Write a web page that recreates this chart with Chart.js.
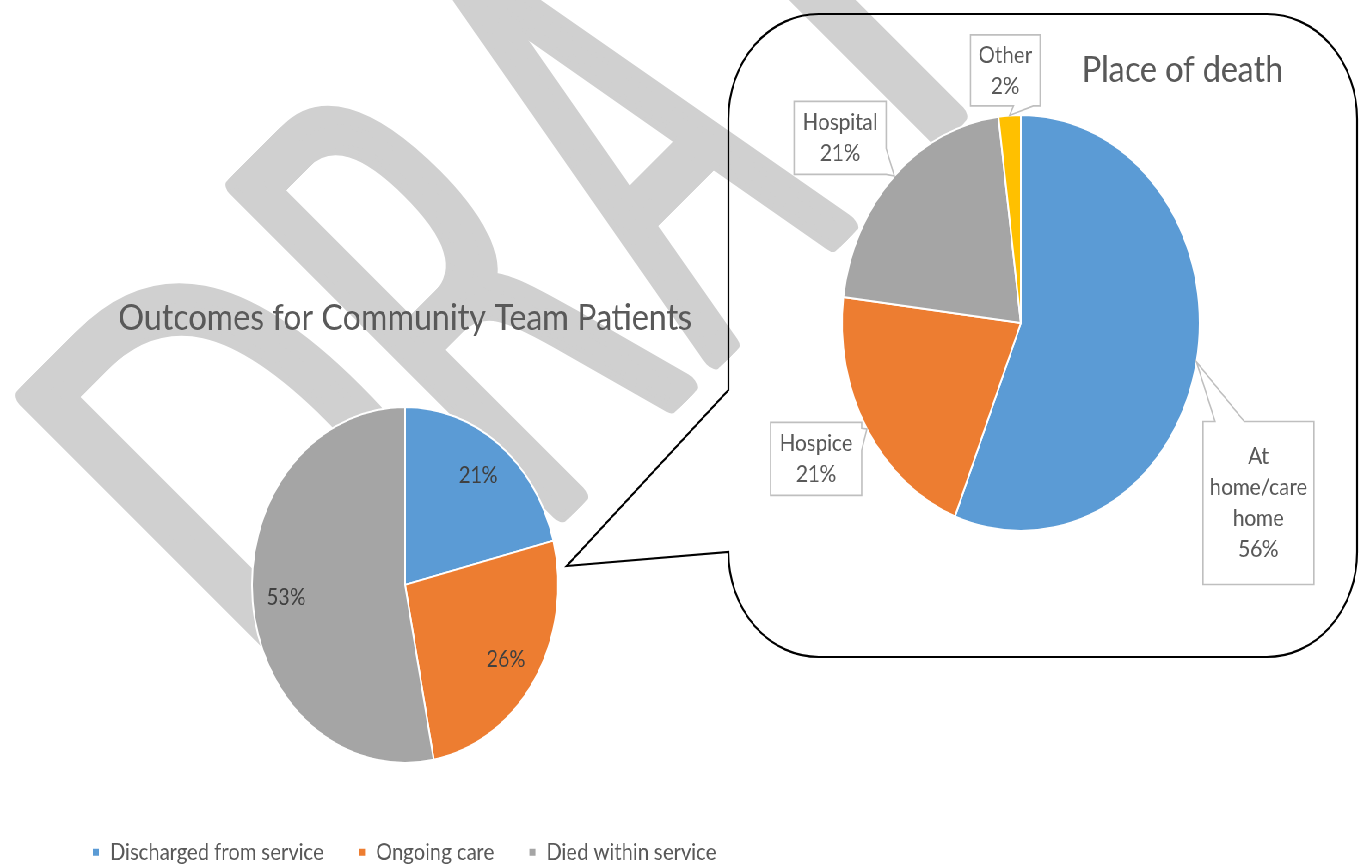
<!DOCTYPE html>
<html>
<head>
<meta charset="utf-8">
<title>Outcomes for Community Team Patients</title>
<script src="https://cdn.jsdelivr.net/npm/chart.js@4.4.1/dist/chart.umd.min.js"></script>
<style>
  html, body { margin: 0; padding: 0; background: #fff; overflow: hidden; }
  #watermark { position: absolute; left: 0; top: 0; }
  /* the sheet is laid out wide and then narrowed, so the pies come out oval */
  #page { position: absolute; left: 0; top: 0; width: 1587px; height: 864px; overflow: hidden;
          transform: scaleX(0.86); transform-origin: 0 0; }
  #page canvas { position: absolute; }
</style>
</head>
<body>
<canvas id="watermark" width="1365" height="864"></canvas>
<div id="page">
  <canvas id="backdrop" width="1587" height="864" style="left:0;top:0"></canvas>
  <canvas id="outcomes" width="942" height="580" style="left:0;top:294px"></canvas>
  <canvas id="death" width="731" height="643" style="left:847px;top:14px"></canvas>
</div>
<script>
const FONT = 'Lato, "Open Sans", sans-serif';

const outcomeLabels = ['Discharged from service', 'Ongoing care', 'Died within service'];
const outcomeValues = [21, 26, 53];
const outcomeColors = ['#5B9BD5', '#ED7D31', '#A5A5A5'];

const deathLabels = ['At home/care home', 'Hospice', 'Hospital', 'Other'];
const deathValues = [56, 21, 21, 2];
const deathColors = ['#5B9BD5', '#ED7D31', '#A5A5A5', '#FFC000'];

// callout boxes: centre offset from the slice edge, size, and where the pointer leaves the box
const calloutStyle = [
  { dx: 72,  dy: 141, w: 129, h: 163, side: 'top',    from: 14, to: 48, wrap: 112 },
  { dx: -59, dy: 30,  w: 106, h: 73,  side: 'right',  from: 6,  to: 28, wrap: 100 },
  { dx: -63, dy: -38, w: 107, h: 73,  side: 'right',  from: 47, to: 73, wrap: 100 },
  { dx: -5,  dy: -45, w: 81,  h: 71,  side: 'bottom', from: 50, to: 73, wrap: 80 }
];

// watermark letters: span of each letter along the slanted baseline
const markLetters = [
  { ch: 'D', from: 0,    to: 260 },
  { ch: 'R', from: 298,  to: 505 },
  { ch: 'A', from: 515,  to: 728 },
  { ch: 'F', from: 830,  to: 1010 },
  { ch: 'T', from: 1040, to: 1250 }
];

function pct(values, i) {
  const total = values.reduce((a, b) => a + b, 0);
  return Math.round(values[i] / total * 100) + '%';
}

// ---------- DRAFT watermark ----------
function drawWatermark() {
  const c = document.getElementById('watermark').getContext('2d');
  const size = 627, pen = 23, smear = 14;
  c.save();
  c.translate(8, 400);
  c.rotate(-Math.PI / 4);
  c.font = '200 ' + size + 'px "DejaVu Sans"';
  c.textBaseline = 'alphabetic';
  c.fillStyle = '#d0d0d0';
  c.strokeStyle = '#d0d0d0';
  c.lineJoin = 'round';
  c.lineWidth = pen;
  const base = pen / 2 + 0.729 * size;
  markLetters.forEach(l => {
    const m = c.measureText(l.ch);
    const inkW = m.actualBoundingBoxLeft + m.actualBoundingBoxRight;
    const sx = (l.to - l.from - smear) / (inkW + pen);
    // a few passes side by side keep the upright strokes as thick as the flat ones
    for (let k = -2; k <= 2; k++) {
      c.save();
      c.translate(l.from + smear / 2 + k * smear / 4 + (pen / 2) * sx, base);
      c.scale(sx, 1);
      c.fillText(l.ch, m.actualBoundingBoxLeft, 0);
      c.strokeText(l.ch, m.actualBoundingBoxLeft, 0);
      c.restore();
    }
  });
  c.restore();
}

// ---------- zoom callout outline ----------
function drawBackdrop() {
  const c = document.getElementById('backdrop').getContext('2d');
  const L = 847, R = 1578, T = 14, B = 657, r = 105;
  c.beginPath();
  c.moveTo(L + r, T);
  c.lineTo(R - r, T);
  c.arcTo(R, T, R, T + r, r);
  c.lineTo(R, B - r);
  c.arcTo(R, B, R - r, B, r);
  c.lineTo(L + r, B);
  c.arcTo(L, B, L, B - r, r);
  c.lineTo(659, 566);
  c.lineTo(L, 390);
  c.lineTo(L, T + r);
  c.arcTo(L, T, L + r, T, r);
  c.closePath();
  c.lineWidth = 2.2;
  c.strokeStyle = '#000';
  c.stroke();
}

// ---------- percentage labels inside the outcome pie ----------
const sliceLabels = {
  id: 'sliceLabels',
  afterDatasetsDraw(chart) {
    const ctx = chart.ctx;
    const values = chart.data.datasets[0].data;
    ctx.save();
    ctx.font = '23px ' + FONT;
    ctx.fillStyle = '#404040';
    ctx.textAlign = 'center';
    ctx.textBaseline = 'middle';
    chart.getDatasetMeta(0).data.forEach((arc, i) => {
      const p = arc.getProps(['x', 'y', 'startAngle', 'endAngle', 'outerRadius'], true);
      const mid = (p.startAngle + p.endAngle) / 2;
      const rr = p.outerRadius * 0.78;
      ctx.fillText(pct(values, i), p.x + Math.cos(mid) * rr, p.y + Math.sin(mid) * rr);
    });
    ctx.restore();
  }
};

// ---------- callout labels round the place of death pie ----------
function wrapText(ctx, text, maxWidth) {
  const words = text.split(' ');
  const lines = [];
  let line = '';
  words.forEach(w => {
    const test = line ? line + ' ' + w : w;
    if (line && ctx.measureText(test).width > maxWidth) {
      lines.push(line);
      line = w;
    } else {
      line = test;
    }
  });
  lines.push(line);
  return lines;
}

function calloutPath(ctx, x0, y0, w, h, tip, st) {
  const x1 = x0 + w, y1 = y0 + h;
  ctx.beginPath();
  ctx.moveTo(x0, y0);
  if (st.side === 'top') { ctx.lineTo(x0 + st.from, y0); ctx.lineTo(tip.x, tip.y); ctx.lineTo(x0 + st.to, y0); }
  ctx.lineTo(x1, y0);
  if (st.side === 'right') { ctx.lineTo(x1, y0 + st.from); ctx.lineTo(tip.x, tip.y); ctx.lineTo(x1, y0 + st.to); }
  ctx.lineTo(x1, y1);
  if (st.side === 'bottom') { ctx.lineTo(x0 + st.to, y1); ctx.lineTo(tip.x, tip.y); ctx.lineTo(x0 + st.from, y1); }
  ctx.lineTo(x0, y1);
  if (st.side === 'left') { ctx.lineTo(x0, y0 + st.to); ctx.lineTo(tip.x, tip.y); ctx.lineTo(x0, y0 + st.from); }
  ctx.closePath();
}

const calloutLabels = {
  id: 'calloutLabels',
  afterDatasetsDraw(chart) {
    const ctx = chart.ctx;
    const values = chart.data.datasets[0].data;
    ctx.save();
    ctx.font = '24px ' + FONT;
    ctx.textAlign = 'center';
    ctx.textBaseline = 'middle';
    chart.getDatasetMeta(0).data.forEach((arc, i) => {
      const st = calloutStyle[i];
      const p = arc.getProps(['x', 'y', 'startAngle', 'endAngle', 'outerRadius'], true);
      const mid = (p.startAngle + p.endAngle) / 2;
      const tip = { x: p.x + Math.cos(mid) * p.outerRadius, y: p.y + Math.sin(mid) * p.outerRadius };
      const cx = tip.x + st.dx, cy = tip.y + st.dy;
      const x0 = cx - st.w / 2, y0 = cy - st.h / 2;

      calloutPath(ctx, x0, y0, st.w, st.h, tip, st);
      ctx.fillStyle = '#fff';
      ctx.fill();
      ctx.lineWidth = 1.6;
      ctx.strokeStyle = '#bfbfbf';
      ctx.stroke();

      const lines = wrapText(ctx, chart.data.labels[i], st.wrap);
      lines.push(pct(values, i));
      const lh = 31;
      ctx.fillStyle = '#595959';
      lines.forEach((ln, k) => {
        ctx.fillText(ln, cx, cy + (k - (lines.length - 1) / 2) * lh);
      });
    });
    ctx.restore();
  }
};

drawWatermark();
drawBackdrop();

new Chart(document.getElementById('outcomes'), {
  type: 'pie',
  data: {
    labels: outcomeLabels,
    datasets: [{
      data: outcomeValues,
      backgroundColor: outcomeColors,
      borderColor: '#fff',
      borderWidth: 2
    }]
  },
  options: {
    responsive: false,
    animation: false,
    radius: 178,
    layout: { padding: { left: 67, right: 67, top: 0, bottom: 0 } },
    plugins: {
      title: {
        display: true,
        text: 'Outcomes for Community Team Patients',
        color: '#595959',
        font: { family: FONT, size: 37.5, weight: 'normal' },
        padding: { top: 1.5, bottom: 28.75 }
      },
      legend: {
        position: 'bottom',
        align: 'start',
        labels: {
          boxWidth: 9,
          boxHeight: 9,
          padding: 40,
          color: '#595959',
          font: { family: FONT, size: 23.5 }
        }
      },
      tooltip: { enabled: false }
    }
  },
  plugins: [sliceLabels]
});

new Chart(document.getElementById('death'), {
  type: 'pie',
  data: {
    labels: deathLabels,
    datasets: [{
      data: deathValues,
      backgroundColor: deathColors,
      borderColor: '#fff',
      borderWidth: 2
    }]
  },
  options: {
    responsive: false,
    animation: false,
    radius: 208,
    layout: { padding: { left: 35, right: 86, top: 0, bottom: 103.5 } },
    plugins: {
      title: {
        display: true,
        text: 'Place of death',
        align: 'end',
        color: '#595959',
        font: { family: FONT, size: 37.5, weight: 'normal' },
        padding: { top: 33.5, bottom: 0 }
      },
      legend: { display: false },
      tooltip: { enabled: false }
    }
  },
  plugins: [calloutLabels]
});
</script>
</body>
</html>
